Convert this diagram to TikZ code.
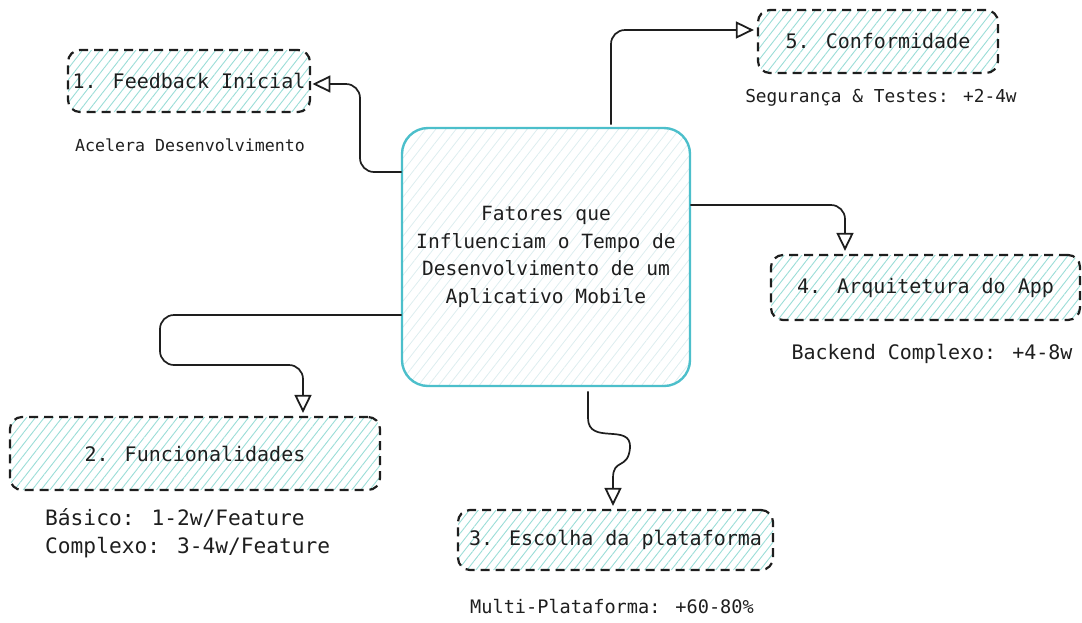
\documentclass[tikz,border=0pt]{standalone}
\usepackage{fontspec}
\setmainfont{DejaVu Sans Mono}
\usetikzlibrary{arrows.meta,patterns.meta}
\definecolor{ink}{HTML}{1E1E1E}
\definecolor{coreline}{HTML}{4CBFCB}
\definecolor{corehatch}{HTML}{DDEDEF}
\definecolor{boxhatch}{HTML}{9ADDD7}

\tikzset{
  factor/.style={draw=ink,line width=2.2pt,dash pattern=on 9pt off 6pt,rounded corners=12pt,
    pattern={Lines[angle=52,distance=7pt,line width=0.9pt]},pattern color=boxhatch,
    inner sep=0pt,font=\fontsize{20}{24}\selectfont,text=ink},
  core/.style={draw=coreline,line width=2.4pt,rounded corners=26pt,
    pattern={Lines[angle=52,distance=8pt,line width=0.8pt]},pattern color=corehatch,
    inner sep=0pt,align=center,font=\fontsize{19.6}{27.7}\selectfont,text=ink},
  note/.style={inner sep=0pt,text=ink},
  conn/.style={draw=ink,line width=1.7pt,rounded corners=14pt,
    -{Triangle[open,length=18pt,width=17pt,line width=1.8pt]}}
}

\begin{document}
\begin{tikzpicture}[x=1pt,y=-1pt]
\useasboundingbox (0,0) rectangle (1082,622);

% central topic
\node[core,minimum width=288pt,minimum height=258pt] (topic) at (546,257)
  {Fatores que\\Influenciam o Tempo de\\Desenvolvimento de um\\Aplicativo Mobile};

% factors
\node[factor,minimum width=242pt,minimum height=62pt] (feedback) at (189,81) {1. Feedback Inicial};
\node[factor,minimum width=370pt,minimum height=73pt] (funcs) at (195,453.5) {2. Funcionalidades};
\node[factor,minimum width=315pt,minimum height=60pt] (plat) at (615.5,540) {3. Escolha da plataforma};
\node[factor,minimum width=309pt,minimum height=65pt] (arch) at (925.5,287.5) {4. Arquitetura do App};
\node[factor,minimum width=240pt,minimum height=63pt] (conf) at (878,41.5) {5. Conformidade};

% notes
\node[note,font=\fontsize{16.6}{20}\selectfont] (feedbacknote) at (190,145) {Acelera Desenvolvimento};
\node[note,font=\fontsize{21.2}{28}\selectfont,align=left,anchor=north west] (funcsnote) at (45,508)
  {Básico: 1-2w/Feature\\Complexo: 3-4w/Feature};
\node[note,font=\fontsize{18.6}{22}\selectfont] (platnote) at (612,607) {Multi-Plataforma: +60-80\%};
\node[note,font=\fontsize{20}{24}\selectfont] (archnote) at (932,354) {Backend Complexo: +4-8w};
\node[note,font=\fontsize{17.8}{22}\selectfont] (confnote) at (881,98) {Segurança \& Testes: +2-4w};

% connectors
\draw[conn] (topic.west |- 0,172) -- (360,172) -- (360,84) -- ([xshift=2pt]feedback.east |- 0,84);
\draw[conn] (topic.west |- 0,315) -- (160,315) -- (160,365) -- (303,365) -- ([yshift=3pt]303,0 |- funcs.north);
\draw[conn,rounded corners=0pt] ([yshift=-5pt]588,0 |- topic.south) -- (588,418)
  .. controls (588,446) and (632,422) .. (630,448)
  .. controls (628,470) and (613,458) .. (613,478) -- ([yshift=3pt]613,0 |- plat.north);
\draw[conn] (topic.east |- 0,205) -- (845,205) -- ([yshift=3pt]845,0 |- arch.north);
\draw[conn] ([yshift=3pt]611,0 |- topic.north) -- (611,30) -- ([xshift=-3pt]conf.west |- 0,30);
\end{tikzpicture}
\end{document}
